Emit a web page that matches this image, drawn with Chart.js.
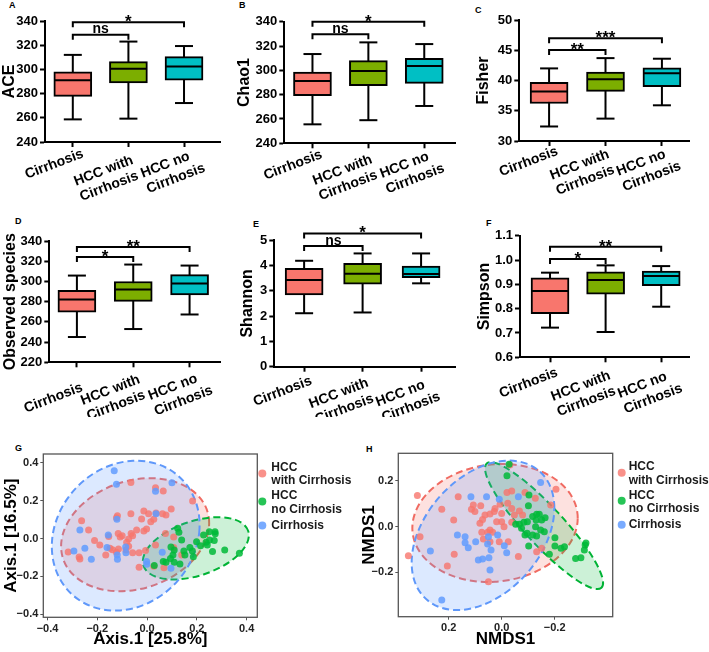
<!DOCTYPE html>
<html><head><meta charset="utf-8">
<script src="https://cdn.jsdelivr.net/npm/chart.js@4.4.1/dist/chart.umd.min.js"></script>
<style>
html,body{margin:0;padding:0;background:#fff;width:709px;height:652px;overflow:hidden;position:relative}
canvas{position:absolute}
.lbl{position:absolute;font:bold 9px "Liberation Sans",Arial,sans-serif;line-height:9px;color:#000}
</style></head><body>
<div class="lbl" style="left:9px;top:1px">A</div>
<div class="lbl" style="left:239px;top:1px">B</div>
<div class="lbl" style="left:475px;top:6px">C</div>
<div class="lbl" style="left:15px;top:217px">D</div>
<div class="lbl" style="left:253px;top:220px">E</div>
<div class="lbl" style="left:486px;top:219px">F</div>
<div class="lbl" style="left:15px;top:444px">G</div>
<div class="lbl" style="left:366px;top:445px">H</div>
<canvas id="cA"></canvas><canvas id="cB"></canvas><canvas id="cC"></canvas>
<canvas id="cD"></canvas><canvas id="cE"></canvas><canvas id="cF"></canvas>
<canvas id="cG"></canvas><canvas id="cH"></canvas>
<script>
// ---------- data ----------
const categories = ['Cirrhosis', ['HCC with', 'Cirrhosis'], ['HCC no', 'Cirrhosis']];
const boxColors = ['#F8766D', '#7CAE00', '#00BFC4'];
// [min, Q1, median, Q3, max] per category
const aceBox = [[258.7, 277.7, 291, 298, 312], [259.3, 288.8, 300.6, 306.4, 323], [272.2, 291, 302.5, 310.5, 319.3]];
const chao1Box = [[255.6, 279.2, 291.2, 298.6, 313.4], [259, 287.4, 299.5, 308, 323], [270.7, 289.3, 303.6, 309.9, 321.6]];
const fisherBox = [[32.4, 36.2, 38.2, 39.7, 42], [33.7, 38.2, 40.2, 41.4, 43.7], [35.9, 39, 41.2, 42.1, 43.6]];
const observedBox = [[245, 269.6, 282.1, 291.3, 305.8], [252.9, 280.2, 292, 299.9, 316.7], [267.3, 286.7, 297.9, 306.8, 315.7]];
const shannonBox = [[2.11, 2.83, 3.42, 3.88, 4.18], [2.14, 3.26, 3.67, 4.08, 4.47], [3.29, 3.51, 3.66, 3.97, 4.47]];
const simpsonBox = [[0.722, 0.779, 0.873, 0.927, 0.948], [0.704, 0.860, 0.918, 0.951, 0.978], [0.808, 0.895, 0.934, 0.955, 0.975]];
// significance brackets: [from, to, level, label]
const aceSig = [[1, 2, 328.7, 'ns'], [1, 3, 339, '*']];
const chao1Sig = [[1, 2, 329.6, 'ns'], [1, 3, 340, '*']];
const fisherSig = [[1, 2, 45.05, '**'], [1, 3, 47, '***']];
const observedSig = [[1, 2, 324.2, '*'], [1, 3, 334, '**']];
const shannonSig = [[1, 2, 4.76, 'ns'], [1, 3, 5.26, '*']];
const simpsonSig = [[1, 2, 1.004, '*'], [1, 3, 1.055, '**']];
// y tick values
const aceTicks = [240, 260, 280, 300, 320, 340];
const chao1Ticks = [240, 260, 280, 300, 320, 340];
const fisherTicks = [30, 35, 40, 45, 50];
const observedTicks = [220, 240, 260, 280, 300, 320, 340];
const shannonTicks = [0, 1, 2, 3, 4, 5];
const simpsonTicks = [0.6, 0.7, 0.8, 0.9, 1.0, 1.1];

// ordination groups
const ordLabels = [['HCC', 'with Cirrhosis'], ['HCC', 'no Cirrhosis'], ['Cirrhosis']];
const ordColors = ['rgba(248,118,109,0.8)', 'rgba(0,186,56,0.85)', 'rgba(97,156,255,0.85)'];
const ordStroke = ['#F06B62', '#00B335', '#5F98FA'];
const ordFill = ['rgba(248,118,109,0.22)', 'rgba(0,186,56,0.2)', 'rgba(97,156,255,0.22)'];
// PCoA (G) points [x, y]
const pcoaWith = [[-0.065,0.296],[0.034,0.268],[0.065,0.251],[0.183,0.198],[0.097,0.156],[0.076,0.124],[0.062,0.131],[0.036,0.134],[0.006,0.131],[-0.065,0.131],[-0.119,0.120],[-0.123,0.110],[-0.022,0.103],[0.015,0.089],[0.027,0.101],[-0.002,0.050],[-0.013,0.040],[-0.064,0.027],[-0.058,0.015],[-0.100,0.015],[-0.108,0.008],[-0.074,-0.003],[-0.154,0.010],[-0.211,-0.011],[-0.235,0.045],[-0.263,0.094],[-0.317,-0.071],[-0.273,-0.098],[-0.270,-0.108],[-0.166,-0.087],[-0.139,-0.059],[-0.115,-0.055],[-0.085,-0.061],[-0.058,-0.075],[-0.032,-0.075],[-0.006,-0.064],[-0.082,-0.020],[-0.074,-0.041],[-0.032,-0.152],[0.027,-0.147],[0.068,-0.154],[0.107,0.008],[0.034,-0.034],[0.107,-0.048],[0.074,0.027],[-0.123,-0.073],[-0.149,-0.052],[-0.116,0.027],[-0.042,0.045],[0.139,-0.087],[-0.190,-0.034],[-0.013,0.145]];
const pcoaNo = [[0.123,0.054],[0.128,0.033],[0.227,0.018],[0.250,0.036],[0.273,0.036],[0.274,0.025],[0.251,-0.008],[0.237,-0.020],[0.270,-0.010],[0.242,-0.034],[0.263,-0.069],[0.312,-0.061],[0.371,-0.078],[0.172,-0.048],[0.148,-0.066],[0.109,-0.061],[0.104,-0.087],[0.065,-0.122],[0.076,-0.126],[0.109,-0.126],[0.132,-0.134],[0.094,-0.105],[0.186,-0.096],[0.152,-0.087],[0.215,-0.038],[0.139,-0.008],[0.096,-0.045],[0.182,-0.066],[0.029,-0.143],[0.199,-0.017]];
const pcoaCirr = [[-0.132,0.358],[-0.123,0.286],[0.034,0.249],[0.100,0.294],[0.036,0.131],[-0.121,0.101],[-0.270,0.045],[-0.156,0.018],[-0.086,-0.045],[-0.085,-0.075],[-0.119,-0.110],[-0.120,-0.087],[-0.294,-0.066],[-0.250,-0.052],[-0.224,-0.110],[-0.161,-0.048],[-0.002,-0.122],[0.061,-0.073],[0.096,-0.157],[-0.001,-0.136]];
// ellipses: [cx, cy, u_x, u_y, v_x, v_y] (conjugate semi-diameters)
const pcoaEllipses = [[-0.048,0.020,0.2975,0.0615,0,0.292],[0.196,-0.052,0.2104,0.0914,-0.0335,0.1366],[-0.0858,0.0149,0.2955,0.0176,0.0295,0.3952]];
// NMDS (H) points [x, y]
const nmdsWith = [[0.318,0.136],[0.352,-0.127],[0.308,-0.044],[0.226,0.076],[0.181,0.029],[0.205,-0.172],[0.164,0.131],[0.179,-0.121],[0.114,0.076],[0.107,0.095],[0.079,0.092],[0.082,0.015],[0.072,0.031],[0.063,0.051],[0.044,0.055],[0.053,-0.025],[0.075,-0.025],[0.069,-0.054],[0.044,-0.015],[0.034,-0.025],[0.025,0.080],[0.006,0.098],[0.019,0.022],[0.000,0.058],[-0.009,0.000],[-0.023,0.102],[-0.020,0.149],[-0.038,0.156],[-0.038,0.080],[-0.048,0.051],[-0.067,0.069],[-0.088,0.150],[0.050,-0.241],[0.009,-0.066],[-0.025,-0.066],[-0.063,-0.131],[-0.079,0.051],[-0.132,-0.110],[-0.151,-0.095],[-0.127,0.124],[-0.185,0.095],[-0.205,0.164],[-0.031,0.270],[0.028,0.066],[0.044,-0.066],[0.000,0.022],[-0.038,0.019],[0.101,0.066]];
const nmdsNo = [[-0.020,0.223],[-0.028,0.273],[-0.103,0.139],[-0.101,0.092],[-0.117,0.044],[-0.132,0.054],[-0.142,0.054],[-0.128,0.000],[-0.151,0.029],[-0.164,0.039],[-0.084,0.019],[-0.097,0.022],[-0.067,0.010],[-0.075,-0.007],[-0.053,0.010],[-0.096,-0.029],[-0.117,-0.037],[-0.132,-0.041],[-0.147,-0.015],[-0.161,-0.022],[-0.201,-0.048],[-0.201,-0.085],[-0.224,-0.095],[-0.237,-0.088],[-0.180,-0.121],[-0.315,-0.080],[-0.318,-0.072],[-0.312,-0.102],[-0.279,-0.139],[-0.299,-0.136],[-0.102,-0.085],[-0.088,-0.037],[-0.130,0.029]];
const nmdsCirr = [[0.116,0.131],[0.057,0.131],[0.009,0.120],[-0.063,0.131],[0.167,-0.037],[0.138,-0.044],[0.138,-0.070],[0.126,-0.092],[0.098,-0.066],[0.088,-0.146],[0.072,-0.142],[0.048,-0.136],[0.040,-0.102],[0.053,-0.076],[0.050,-0.044],[0.044,-0.190],[-0.019,-0.114],[-0.010,-0.083],[0.269,-0.107],[0.226,-0.321],[-0.147,0.193],[0.015,-0.037]];
const nmdsEllipses = [[0.025,0.016,-0.312,0.022,0,0.257],[-0.16,0.0044,-0.2164,-0.2715,-0.0528,0.0569],[0.0704,-0.038,-0.2692,0.1194,0,0.3044]];
const ordTicksG = [-0.4, -0.2, 0, 0.2, 0.4];
const ordTicksH = [-0.2, 0, 0.2];

// ---------- drawing ----------
const F = '"Liberation Sans", Arial, sans-serif';
Chart.defaults.font.family = F;

const sigPlugin = {
  id: 'sig',
  afterDatasetsDraw(chart) {
    const o = chart.options.plugins.sig;
    const xs = chart.scales.x, ys = chart.scales.y, ctx = chart.ctx;
    ctx.save();
    ctx.strokeStyle = '#000'; ctx.fillStyle = '#000'; ctx.lineWidth = 2; ctx.textAlign = 'center';
    o.list.forEach(([a, b, lev, lab]) => {
      const x1 = xs.getPixelForValue(a), x2 = xs.getPixelForValue(b), y = ys.getPixelForValue(lev);
      ctx.beginPath(); ctx.moveTo(x1, y + 5); ctx.lineTo(x1, y); ctx.lineTo(x2, y); ctx.lineTo(x2, y + 5); ctx.stroke();
      ctx.textBaseline = 'alphabetic';
      if (lab === 'ns') { ctx.font = 'bold 14px ' + F; ctx.fillText(lab, (x1 + x2) / 2, y - 1.5); }
      else { ctx.font = 'bold 17px ' + F; ctx.fillText(lab, (x1 + x2) / 2, y + 5); }
    });
    // rotated category labels (Prism style, lines left-aligned)
    const axisY = chart.chartArea.bottom;
    ctx.font = 'bold 14px ' + F; ctx.textBaseline = 'alphabetic';
    categories.forEach((lab, i) => {
      const lines = Array.isArray(lab) ? lab : [lab];
      const [dx, dy] = o.labOff[i];
      const tx = xs.getPixelForValue(i + 1);
      ctx.save();
      ctx.translate(tx + dx, axisY + dy);
      ctx.rotate(-21 * Math.PI / 180);
      const w1 = ctx.measureText(lines[0]).width;
      ctx.textAlign = 'left';
      lines.forEach((t, j) => ctx.fillText(t, -w1, 10 + j * 16.5));
      ctx.restore();
    });
    ctx.restore();
  }
};

function setupCanvas(id, L) {
  const cv = document.getElementById(id);
  cv.width = L.w; cv.height = L.h;
  cv.style.left = L.left + 'px'; cv.style.top = L.top + 'px';
  cv.style.width = L.w + 'px'; cv.style.height = L.h + 'px';
  return cv;
}

function makeBox(id, box, sig, ticks, title, L, dec) {
  const cv = setupCanvas(id, L);
  const axisFont = { family: F, size: 13, weight: 'bold' };
  new Chart(cv, {
    type: 'bar',
    data: {
      datasets: [
        { type: 'line', data: box.flatMap((s, i) => [{ x: i + 1, y: s[0] }, { x: i + 1, y: s[4] }, { x: i + 1.5, y: null }]),
          borderColor: '#000', borderWidth: 2, pointRadius: 0, spanGaps: false, order: 3, clip: false },
        { type: 'bar', data: box.map((s, i) => ({ x: i + 1, y: [s[1], s[3]] })),
          backgroundColor: boxColors, borderColor: '#000', borderWidth: 2, borderSkipped: false, barThickness: 38, order: 2 },
        { type: 'scatter', data: box.flatMap((s, i) => [{ x: i + 1, y: s[0] }, { x: i + 1, y: s[4] }]),
          pointStyle: 'line', pointRadius: 9, pointBorderColor: '#000', borderColor: '#000', pointBorderWidth: 2, borderWidth: 2, order: 1, clip: false },
        { type: 'scatter', data: box.map((s, i) => ({ x: i + 1, y: s[2] })),
          pointStyle: 'line', pointRadius: 18, pointBorderColor: '#000', borderColor: '#000', pointBorderWidth: 2, borderWidth: 2, order: 0, clip: false }
      ]
    },
    plugins: [sigPlugin],
    options: {
      responsive: false, animation: false, events: [],
      layout: { padding: { top: L.topY - L.top, right: L.left + L.w - L.rightX, left: 0, bottom: 0 } },
      plugins: { legend: { display: false }, tooltip: { enabled: false }, sig: { list: sig, labOff: L.lab } },
      scales: {
        x: {
          type: 'linear', min: L.xmin, max: L.xmax, offset: false,
          afterBuildTicks: s => { s.ticks = [1, 2, 3].map(v => ({ value: v })); },
          afterFit: s => { s.height = L.top + L.h - L.bottomY; },
          grid: { display: true, offset: false, drawOnChartArea: false, drawTicks: true, tickLength: 5, tickWidth: 2, tickColor: '#000' },
          border: { display: true, width: 2, color: '#000' },
          ticks: { display: false }
        },
        y: {
          type: 'linear', min: ticks[0], max: ticks[ticks.length - 1], beginAtZero: false,
          afterBuildTicks: s => { s.ticks = ticks.map(v => ({ value: v })); },
          afterFit: s => { s.width = L.axisX - L.left; },
          grid: { display: true, drawOnChartArea: false, drawTicks: true, tickLength: 5, tickWidth: 2, tickColor: '#000' },
          border: { display: true, width: 2, color: '#000' },
          ticks: { padding: 2, color: '#000', font: axisFont, callback: v => dec ? Number(v).toFixed(dec) : String(v) },
          title: { display: true, text: title, color: '#000', font: { family: F, size: 16, weight: 'bold' }, padding: { top: L.tp, bottom: 0 } }
        }
      }
    }
  });
}

const boxLayouts = {
  A: { left: 0, top: 0, w: 240, h: 205, axisX: 45, topY: 21, rightX: 236, bottomY: 142, xmin: 0.5, xmax: 3.647, tp: 0, lab: [[8, 5.5], [2, 12], [3, 8]] },
  B: { left: 235, top: 0, w: 240, h: 205, axisX: 284.3, topY: 21.7, rightX: 471.7, bottomY: 143.3, xmin: 0.496, xmax: 3.55, tp: 0, lab: [[7, 5], [1, 10], [2, 7]] },
  C: { left: 470, top: 0, w: 239, h: 205, axisX: 519.3, topY: 15.7, rightX: 707.3, bottomY: 141, xmin: 0.472, xmax: 3.48, tp: 4, lab: [[6, 4], [1, 7], [1, 7]] },
  D: { left: 0, top: 205, w: 240, h: 212, axisX: 49.3, topY: 241, rightX: 231.7, bottomY: 362.3, xmin: 0.51, xmax: 3.54, tp: 1, lab: [[3, 19], [4, 11], [5, 10]] },
  E: { left: 235, top: 205, w: 240, h: 212, axisX: 274.3, topY: 240, rightX: 472.3, bottomY: 366.7, xmin: 0.49, xmax: 3.58, tp: 3, lab: [[5, 8], [3, 10], [1, 12]] },
  F: { left: 470, top: 205, w: 239, h: 212, axisX: 520, topY: 235.7, rightX: 707.3, bottomY: 357.3, xmin: 0.46, xmax: 3.5, tp: 5, lab: [[5, 9], [2, 12], [3, 13]] }
};

makeBox('cA', aceBox, aceSig, aceTicks, 'ACE', boxLayouts.A, 0);
makeBox('cB', chao1Box, chao1Sig, chao1Ticks, 'Chao1', boxLayouts.B, 0);
makeBox('cC', fisherBox, fisherSig, fisherTicks, 'Fisher', boxLayouts.C, 0);
makeBox('cD', observedBox, observedSig, observedTicks, 'Observed species', boxLayouts.D, 0);
makeBox('cE', shannonBox, shannonSig, shannonTicks, 'Shannon', boxLayouts.E, 0);
makeBox('cF', simpsonBox, simpsonSig, simpsonTicks, 'Simpson', boxLayouts.F, 1);

// ---------- ordination ----------
const ordPlugin = {
  id: 'ord',
  beforeDatasetsDraw(chart) {
    const o = chart.options.plugins.ord, xs = chart.scales.x, ys = chart.scales.y, ctx = chart.ctx;
    o.ellipses.forEach((e, i) => {
      const [cx, cy, ux, uy, vx, vy] = e;
      const px = xs.getPixelForValue(cx), py = ys.getPixelForValue(cy);
      const a = xs.getPixelForValue(cx + ux) - px, b = ys.getPixelForValue(cy + uy) - py;
      const c = xs.getPixelForValue(cx + vx) - px, d = ys.getPixelForValue(cy + vy) - py;
      ctx.save();
      ctx.beginPath();
      ctx.save(); ctx.transform(a, b, c, d, px, py); ctx.arc(0, 0, 1, 0, Math.PI * 2); ctx.restore();
      ctx.fillStyle = ordFill[i]; ctx.fill();
      ctx.setLineDash([7, 4]); ctx.lineWidth = 2; ctx.strokeStyle = ordStroke[i]; ctx.stroke();
      ctx.restore();
    });
  },
  afterDraw(chart) {
    const o = chart.options.plugins.ord, ctx = chart.ctx, ca = chart.chartArea;
    ctx.save();
    ctx.strokeStyle = '#555'; ctx.lineWidth = 1.3;
    ctx.strokeRect(ca.left, ca.top, ca.right - ca.left, ca.bottom - ca.top);
    ctx.font = 'bold 12px ' + F; ctx.textAlign = 'left'; ctx.textBaseline = 'middle';
    const pos = [[19.5, [13.7, 27]], [47.5, [42, 55.5]], [71.5, [71.5]]];
    ordLabels.forEach((lab, i) => {
      ctx.fillStyle = ordColors[i];
      ctx.beginPath(); ctx.arc(ca.right + o.dotDx, ca.top + pos[i][0], 4, 0, Math.PI * 2); ctx.fill();
      ctx.fillStyle = '#1a1a1a';
      lab.forEach((t, j) => ctx.fillText(t, ca.right + o.textDx, ca.top + pos[i][1][j]));
    });
    ctx.restore();
  }
};

function fmtOrd(v) {
  if (Math.abs(v) < 1e-9) return '0.0';
  return (v < 0 ? '\u2212' : '') + Math.abs(v).toFixed(1);
}

function makeOrd(id, L, sets, ellipses, tks, xTitle, yTitle) {
  const cv = setupCanvas(id, L);
  const tf = { family: F, size: 11, weight: 'bold' };
  new Chart(cv, {
    type: 'scatter',
    data: {
      datasets: sets.map((pts, i) => ({
        data: pts.map(([x, y]) => ({ x, y })), backgroundColor: ordColors[i], borderColor: ordColors[i],
        pointRadius: 3.5, pointBorderWidth: 0, order: 2 - i
      }))
    },
    plugins: [ordPlugin],
    options: {
      responsive: false, animation: false, events: [],
      layout: { padding: { top: L.topY - L.top, right: L.left + L.w - L.rightX, left: 0, bottom: 0 } },
      plugins: { legend: { display: false }, tooltip: { enabled: false },
                 ord: { ellipses, dotDx: L.dotDx, textDx: L.textDx } },
      scales: {
        x: {
          type: 'linear', min: L.xmin, max: L.xmax, reverse: !!L.rev,
          afterBuildTicks: s => { s.ticks = tks.x.map(v => ({ value: v })); },
          afterFit: s => { s.height = L.top + L.h - L.bottomY; },
          grid: { drawOnChartArea: false, drawTicks: true, tickLength: 3, tickWidth: 1, tickColor: '#555' },
          border: { display: false },
          ticks: { padding: 2, color: '#222', font: tf, callback: v => fmtOrd(v) },
          title: { display: true, text: xTitle, color: '#000', font: { family: F, size: 17, weight: 'bold' }, padding: { top: 0, bottom: 2 } }
        },
        y: {
          type: 'linear', min: L.ymin, max: L.ymax,
          afterBuildTicks: s => { s.ticks = tks.y.map(v => ({ value: v })); },
          afterFit: s => { s.width = L.axisX - L.left; },
          grid: { drawOnChartArea: false, drawTicks: true, tickLength: 3, tickWidth: 1, tickColor: '#555' },
          border: { display: false },
          ticks: { padding: 2, color: '#222', font: tf, callback: v => fmtOrd(v) },
          title: { display: true, text: yTitle, color: '#000', font: { family: F, size: 17, weight: 'bold' }, padding: { top: L.tp, bottom: 0 } }
        }
      }
    }
  });
}

makeOrd('cG', { left: 0, top: 420, w: 360, h: 232, axisX: 43.3, topY: 454, rightX: 257.3, bottomY: 617.3,
                xmin: -0.417, xmax: 0.443, ymin: -0.416, ymax: 0.446, tp: 1, dotDx: 5, textDx: 14 },
        [pcoaWith, pcoaNo, pcoaCirr], pcoaEllipses, { x: ordTicksG, y: ordTicksG }, 'Axis.1 [25.8%]', 'Axis.1 [16.5%]');
makeOrd('cH', { left: 355, top: 420, w: 354, h: 232, axisX: 398.3, topY: 453.3, rightX: 612.7, bottomY: 616.7,
                xmin: -0.419, xmax: 0.39, ymin: -0.394, ymax: 0.321, rev: true, tp: 4.5, dotDx: 9, textDx: 16 },
        [nmdsWith, nmdsNo, nmdsCirr], nmdsEllipses, { x: ordTicksH, y: ordTicksH }, 'NMDS1', 'NMDS1');
</script>
</body></html>
